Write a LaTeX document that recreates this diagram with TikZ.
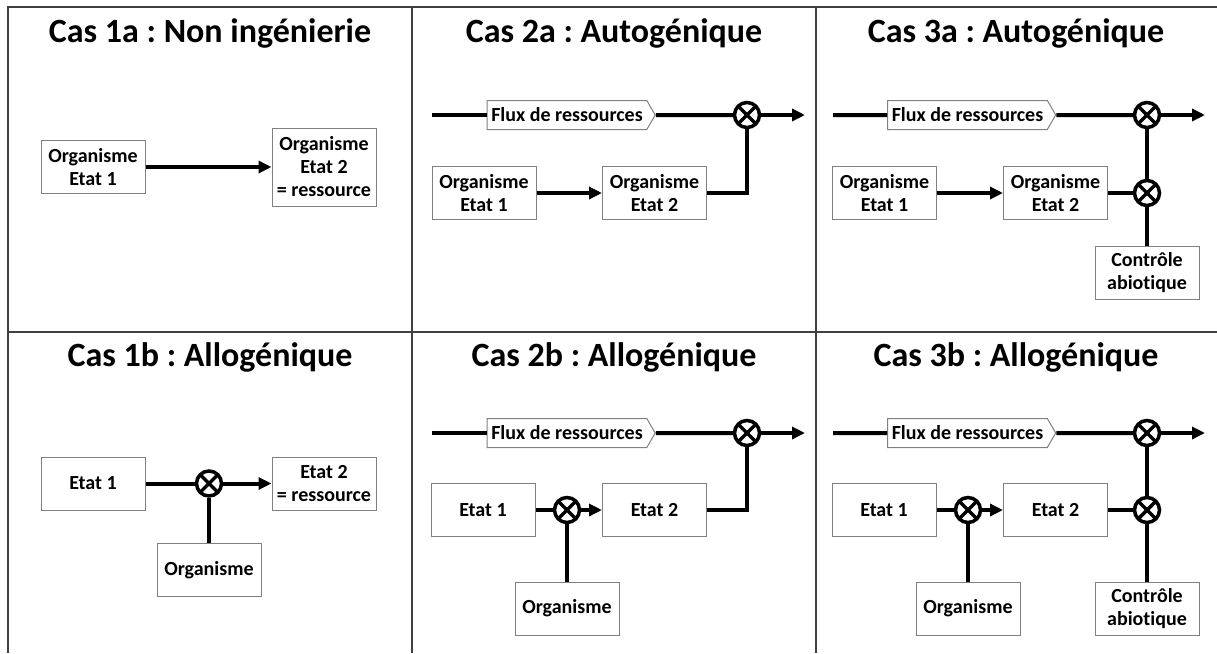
\documentclass[tikz,border=0pt]{standalone}
\usepackage{fontspec}
\setmainfont{Carlito}[Ligatures=NoCommon]
\usetikzlibrary{arrows.meta,shapes.symbols}
\frenchspacing
\newcommand{\casfont}{\fontsize{34}{40}\selectfont\bfseries}
\newcommand{\boxfont}{\fontsize{20}{23}\selectfont\bfseries}
\tikzset{
  grille/.style={draw=black!75,line width=1.5pt},
  cas/.style={anchor=base,font=\casfont,inner sep=0pt},
  bloc/.style={draw=gray,line width=1pt,fill=white,minimum width=104pt,minimum height=53pt,
    inner sep=2pt,align=center,font=\boxfont},
  flux/.style={signal,signal to=east,signal pointer angle=120,draw=gray,line width=1pt,fill=white,
    minimum width=168pt,minimum height=29pt,inner sep=1pt,font=\boxfont},
  mult/.style={circle,draw,line width=3.5pt,minimum size=25pt,inner sep=0pt,fill=white,
    path picture={\draw[line width=3.5pt]
      (path picture bounding box.north west) -- (path picture bounding box.south east)
      (path picture bounding box.north east) -- (path picture bounding box.south west);}},
  trait/.style={line width=4pt},
  fleche/.style={-{Triangle[length=13pt,width=12pt]}}
}
\begin{document}
\begin{tikzpicture}[x=1pt,y=-1pt]
  \useasboundingbox (0,0) rectangle (1217,653);
  \draw[grille] (8,653) -- (8,7) -- (1217,7)
    (412,7) -- (412,653) (816,7) -- (816,653) (8,332) -- (1217,332);
  \draw
    (210,42) node[cas] (t1a){Cas 1a : Non ingénierie}
    (614,42) node[cas] (t2a){Cas 2a : Autogénique}
    (1016,42) node[cas] (t3a){Cas 3a : Autogénique}
    (210,366) node[cas] (t1b){Cas 1b : Allogénique}
    (614,366) node[cas] (t2b){Cas 2b : Allogénique}
    (1016,366) node[cas] (t3b){Cas 3b : Allogénique};
  \coordinate (2a-in) at (432,115);
  \coordinate (2a-out) at (805,115);
  \coordinate (3a-in) at (833,115);
  \coordinate (3a-out) at (1205,115);
  \coordinate (2b-in) at (432,433);
  \coordinate (2b-out) at (805,433);
  \coordinate (3b-in) at (833,433);
  \coordinate (3b-out) at (1205,433);
  \draw
    (93,167) node[bloc] (1a-e1){Organisme\\Etat 1}
    (324,167) node[bloc,minimum height=78pt] (1a-e2){Organisme\\Etat 2\\= ressource}
    (567,115) node[flux] (2a-f){Flux de ressources}
    (747,115) node[mult] (2a-x){}
    (484,193) node[bloc] (2a-e1){Organisme\\Etat 1}
    (654.5,193) node[bloc] (2a-e2){Organisme\\Etat 2}
    (967.5,115) node[flux] (3a-f){Flux de ressources}
    (1147,115) node[mult] (3a-x1){}
    (1147,193) node[mult] (3a-x2){}
    (884.5,193) node[bloc] (3a-e1){Organisme\\Etat 1}
    (1055.5,193) node[bloc] (3a-e2){Organisme\\Etat 2}
    (1147,272.5) node[bloc] (3a-c){Contrôle\\abiotique}
    (93,483.5) node[bloc] (1b-e1){Etat 1}
    (209,483.5) node[mult] (1b-x){}
    (324,483.5) node[bloc] (1b-e2){Etat 2\\= ressource}
    (209,570) node[bloc] (1b-o){Organisme}
    (567,433) node[flux] (2b-f){Flux de ressources}
    (747,433) node[mult] (2b-x1){}
    (483,510) node[bloc] (2b-e1){Etat 1}
    (567,510) node[mult] (2b-x2){}
    (654.5,510) node[bloc] (2b-e2){Etat 2}
    (567,608.5) node[bloc] (2b-o){Organisme}
    (967.5,433) node[flux] (3b-f){Flux de ressources}
    (1147,433) node[mult] (3b-x1){}
    (884,510) node[bloc] (3b-e1){Etat 1}
    (968,510) node[mult] (3b-x2){}
    (1055.5,510) node[bloc] (3b-e2){Etat 2}
    (1147,510) node[mult] (3b-x3){}
    (968,608.5) node[bloc] (3b-o){Organisme}
    (1147,608.5) node[bloc] (3b-c){Contrôle\\abiotique};
  \begin{scope}[trait]
    \draw[fleche] (1a-e1) -- (1a-e2);
    \draw (2a-in) -- (2a-f);
    \draw (2a-f) -- (2a-x);
    \draw[fleche] (2a-x) -- (2a-out);
    \draw[fleche] (2a-e1) -- (2a-e2);
    \draw (2a-e2) -| (2a-x);
    \draw (3a-in) -- (3a-f);
    \draw (3a-f) -- (3a-x1);
    \draw[fleche] (3a-x1) -- (3a-out);
    \draw[fleche] (3a-e1) -- (3a-e2);
    \draw (3a-e2) -- (3a-x2);
    \draw (3a-x2) -- (3a-x1);
    \draw (3a-c) -- (3a-x2);
    \draw (1b-e1) -- (1b-x);
    \draw[fleche] (1b-x) -- (1b-e2);
    \draw (1b-o) -- (1b-x);
    \draw (2b-in) -- (2b-f);
    \draw (2b-f) -- (2b-x1);
    \draw[fleche] (2b-x1) -- (2b-out);
    \draw (2b-e1) -- (2b-x2);
    \draw[fleche] (2b-x2) -- (2b-e2);
    \draw (2b-o) -- (2b-x2);
    \draw (2b-e2) -| (2b-x1);
    \draw (3b-in) -- (3b-f);
    \draw (3b-f) -- (3b-x1);
    \draw[fleche] (3b-x1) -- (3b-out);
    \draw (3b-e1) -- (3b-x2);
    \draw[fleche] (3b-x2) -- (3b-e2);
    \draw (3b-o) -- (3b-x2);
    \draw (3b-e2) -- (3b-x3);
    \draw (3b-x3) -- (3b-x1);
    \draw (3b-c) -- (3b-x3);
  \end{scope}
\end{tikzpicture}
\end{document}
